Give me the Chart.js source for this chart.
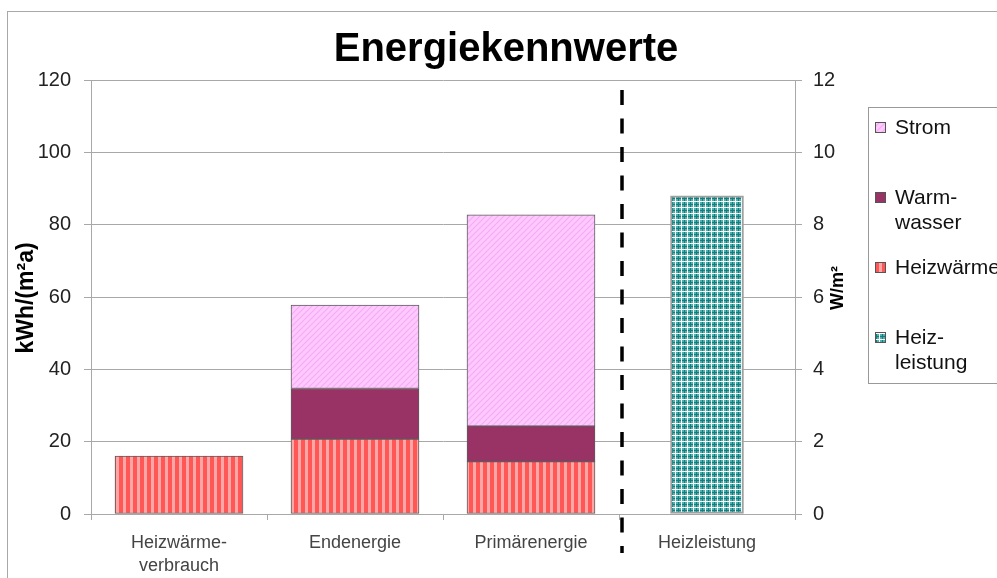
<!DOCTYPE html>
<html lang="de">
<head>
<meta charset="utf-8">
<title>Energiekennwerte</title>
<script src="https://cdn.jsdelivr.net/npm/chart.js@4.4.1/dist/chart.umd.min.js"></script>
<style>
  html, body { margin: 0; padding: 0; background: #fff; }
  #wrap { width: 997px; height: 578px; }
</style>
</head>
<body>
<div id="wrap"><canvas id="kennwerte" width="997" height="578"></canvas></div>
<script>
// Kennwerte je Kategorie: links kWh/(m²a), rechts W/m²
const categories = [['Heizwärme-', 'verbrauch'], 'Endenergie', 'Primärenergie', 'Heizleistung'];
const heizwaerme = [16, 20.7, 14.5, null];
const warmwasser = [null, 14, 9.8, null];
const strom = [null, 23.1, 58.4, null];
const heizleistung = [null, null, null, 8.8];
const energyAxis = [0, 120, 20];   // min, max, step
const powerAxis = [0, 12, 2];
const legendRows = [['Strom'], ['Warm-', 'wasser'], ['Heizwärme'], ['Heiz-', 'leistung']];

const FONT = '"Liberation Sans", Arial, sans-serif';
const GRID = '#a8a8a8';

const canvas = document.getElementById('kennwerte');
const ctx = canvas.getContext('2d');

// ------------------------------------------------------------
// fill patterns (Excel style hatches)
// ------------------------------------------------------------
function tile(w, h, paint) {
    const c = document.createElement('canvas');
    c.width = w; c.height = h;
    paint(c.getContext('2d'), w, h);
    return ctx.createPattern(c, 'repeat');
}

const redStripes = tile(7, 4, (g, w, h) => {
    g.fillStyle = '#ff5656'; g.fillRect(0, 0, w, h);
    g.fillStyle = '#ffa6a6'; g.fillRect(4, 0, 3, h);
});

const pinkDiagonal = tile(6, 6, (g, w, h) => {
    g.fillStyle = '#ffc8ff'; g.fillRect(0, 0, w, h);
    g.strokeStyle = '#f2aef2'; g.lineWidth = 1.2;
    g.beginPath();
    g.moveTo(-1, 7); g.lineTo(7, -1);
    g.moveTo(-1, 1); g.lineTo(1, -1);
    g.moveTo(5, 7); g.lineTo(7, 5);
    g.stroke();
});

const tealGrid = tile(6, 6, (g, w, h) => {
    g.fillStyle = '#4fb0b0'; g.fillRect(0, 0, w, h);
    g.fillStyle = '#177c7c'; g.fillRect(0, 0, 1, h); g.fillRect(0, 0, w, 1);
    g.fillStyle = '#ffffff'; g.fillRect(3, 0, 1, h); g.fillRect(0, 3, w, 1);
});

const legendFills = [pinkDiagonal, '#993366', redStripes, tealGrid];

// ------------------------------------------------------------
// title, frame, axis titles, divider and legend
// ------------------------------------------------------------
const decorations = {
    id: 'decorations',
    afterDraw(chart) {
        const c = chart.ctx;
        const area = chart.chartArea;
        const xs = chart.scales.x;
        c.save();

        // outer frame
        c.strokeStyle = '#a8a8a8'; c.lineWidth = 1;
        c.strokeRect(7.5, 11.5, 1100, 700);

        // title
        c.fillStyle = '#000';
        c.font = 'bold 40px ' + FONT;
        c.textAlign = 'center'; c.textBaseline = 'alphabetic';
        c.fillText('Energiekennwerte', 506, 61);

        // axis titles (both read bottom-to-top)
        c.textBaseline = 'middle';
        c.save();
        c.translate(27, (area.top + area.bottom) / 2 + 1);
        c.rotate(-Math.PI / 2);
        c.font = 'bold 23px ' + FONT;
        c.fillText('kWh/(m²a)', 0, 0);
        c.restore();

        c.save();
        c.translate(area.right + 43, (area.top + area.bottom) / 2 - 9);
        c.rotate(-Math.PI / 2);
        c.font = 'bold 18px ' + FONT;
        c.fillText('W/m²', 0, 0);
        c.restore();

        // divider between energy values and heating load
        const dx = (xs.getPixelForValue(2) + xs.getPixelForValue(3)) / 2 + 3;
        c.strokeStyle = '#000'; c.lineWidth = 3.5;
        c.setLineDash([15, 13.5]);
        c.beginPath();
        c.moveTo(dx, area.top + 10);
        c.lineTo(dx, area.bottom + 39);
        c.stroke();
        c.setLineDash([]);

        // legend
        const lx = 868, ly = 107;
        c.strokeStyle = '#999'; c.lineWidth = 1;
        c.strokeRect(lx + 0.5, ly + 0.5, 200, 276);
        c.font = '21px ' + FONT;
        c.textAlign = 'left'; c.textBaseline = 'middle';
        legendRows.forEach((lines, i) => {
            const y = 128 + i * 70;
            c.fillStyle = legendFills[i];
            c.fillRect(875, y - 6, 11, 11);
            c.strokeStyle = '#555';
            c.strokeRect(875.5, y - 5.5, 10, 10);
            c.fillStyle = '#111';
            lines.forEach((t, k) => c.fillText(t, 895, y + k * 25));
        });

        c.restore();
    }
};

const barBorder = { borderColor: '#5c5c5c', borderWidth: 1, borderSkipped: false, stack: 'all' };

new Chart(canvas, {
    type: 'bar',
    data: {
        labels: categories,
        datasets: [
            { label: 'Heizwärme', data: heizwaerme, backgroundColor: redStripes, barThickness: 128, yAxisID: 'y', ...barBorder },
            { label: 'Warmwasser', data: warmwasser, backgroundColor: '#993366', barThickness: 128, yAxisID: 'y', ...barBorder },
            { label: 'Strom', data: strom, backgroundColor: pinkDiagonal, barThickness: 128, yAxisID: 'y', ...barBorder },
            { label: 'Heizleistung', data: heizleistung, backgroundColor: tealGrid, barThickness: 73, yAxisID: 'y2',
              borderColor: '#a0a0a0', borderWidth: 2, borderSkipped: false, stack: 'all' }
        ]
    },
    options: {
        responsive: false,
        animation: false,
        layout: { padding: { top: 80, left: 0, right: 0, bottom: 0 } },
        plugins: { legend: { display: false }, tooltip: { enabled: false }, title: { display: false } },
        scales: {
            x: {
                grid: { offset: true, drawOnChartArea: false, color: GRID, tickLength: 6 },
                border: { color: GRID },
                ticks: { font: { family: FONT, size: 18, lineHeight: 1.3 }, color: '#444', padding: 11, maxRotation: 0, autoSkip: false },
                afterFit: s => { s.height = 64; }
            },
            y: {
                stacked: true,
                min: energyAxis[0], max: energyAxis[1],
                ticks: { stepSize: energyAxis[2], font: { family: FONT, size: 20 }, color: '#222', padding: 13 },
                grid: { color: GRID, tickLength: 7 },
                border: { color: GRID },
                afterFit: s => { s.width = 91; }
            },
            y2: {
                position: 'right',
                min: powerAxis[0], max: powerAxis[1],
                ticks: { stepSize: powerAxis[2], font: { family: FONT, size: 20 }, color: '#222', padding: 11 },
                grid: { drawOnChartArea: false, color: GRID, tickLength: 7 },
                border: { color: GRID },
                afterFit: s => { s.width = 202; }
            }
        }
    },
    plugins: [decorations]
});
</script>
</body>
</html>
